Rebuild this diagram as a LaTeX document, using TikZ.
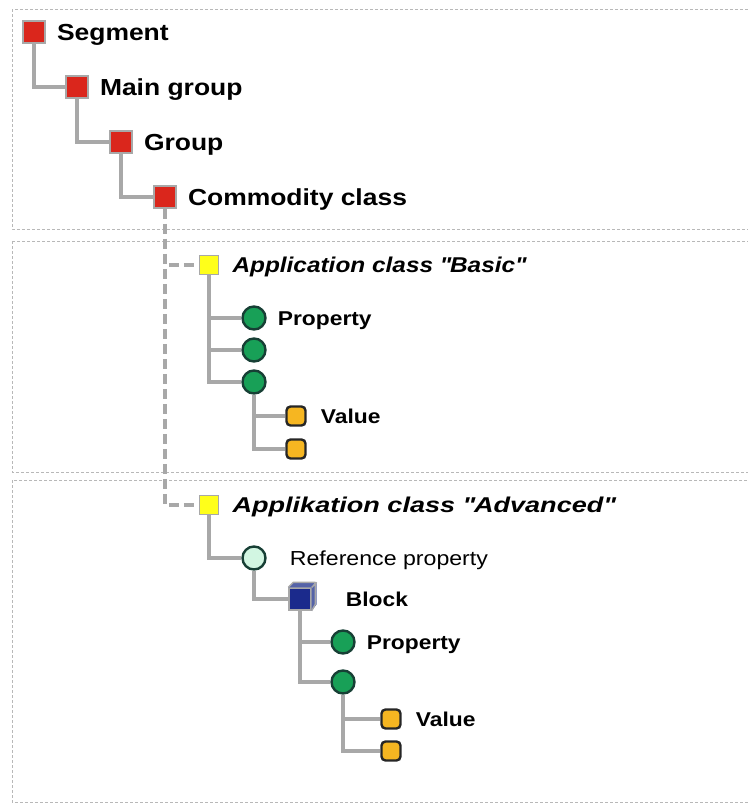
\documentclass[tikz,border=0pt]{standalone}
\usepackage{fontspec}
\usepackage{graphicx}
\setmainfont[FakeStretch=1.14]{Liberation Sans}
\usetikzlibrary{positioning}

\definecolor{linegray}{HTML}{A8A8A8}
\definecolor{panelgray}{HTML}{B8B8B8}
\definecolor{lvlred}{HTML}{DA261C}
\definecolor{clsyellow}{HTML}{FFFF1A}
\definecolor{propgreen}{HTML}{18A057}
\definecolor{propedge}{HTML}{173F35}
\definecolor{valorange}{HTML}{F6B621}
\definecolor{refmint}{HTML}{D2F6E2}
\definecolor{blocknavy}{HTML}{1B2A8C}
\definecolor{blockside}{HTML}{5563A8}

\tikzset{
  panel/.style={draw=panelgray, line width=0.9pt, dash pattern=on 3pt off 2pt},
  conn/.style={draw=linegray, line width=3.6pt},
  dashconn/.style={conn, dash pattern=on 10pt off 5pt},
  lvlbox/.style={rectangle, fill=lvlred, draw=linegray, line width=1.6pt, minimum size=22pt, inner sep=0pt},
  clsbox/.style={rectangle, fill=clsyellow, draw=linegray, line width=1.6pt, minimum size=19pt, inner sep=0pt},
  propdot/.style={circle, fill=propgreen, draw=propedge, line width=2.4pt, minimum size=23pt, inner sep=0pt},
  refdot/.style={circle, fill=refmint, draw=propedge, line width=2.4pt, minimum size=23pt, inner sep=0pt},
  valbox/.style={rectangle, rounded corners=4pt, fill=valorange, draw=black!85, line width=2.4pt, minimum size=19pt, inner sep=0pt},
  blockbox/.style={rectangle, fill=blocknavy, draw=linegray, line width=1.4pt, minimum size=22pt, inner sep=0pt},
  biglbl/.style={inner sep=0pt, text height=16.6pt, text depth=0pt, font=\fontsize{23.2}{28}\selectfont\bfseries},
  clslbl/.style={inner sep=0pt, text height=15.3pt, text depth=0pt, font=\fontsize{21.4}{26}\selectfont\bfseries\itshape},
  smllbl/.style={inner sep=0pt, text height=14.3pt, text depth=0pt, font=\fontsize{20}{24}\selectfont\bfseries},
  reflbl/.style={inner sep=0pt, text height=14.5pt, text depth=0pt, font=\fontsize{20.3}{24}\selectfont},
}

\begin{document}
\begin{tikzpicture}[x=1pt,y=-1pt]
  \useasboundingbox (0,0) rectangle (748,807);
  \clip (0,0) rectangle (748,807);

  % dashed panels
  \draw[panel] (12,9) rectangle (770,229);
  \draw[panel] (12,241) rectangle (770,472);
  \draw[panel] (12,480) rectangle (770,802);

  % classification levels
  \node[lvlbox] (seg) at (34,32) {};
  \node[lvlbox] (maingrp) at (77,87) {};
  \node[lvlbox] (grp) at (121,142) {};
  \node[lvlbox] (comm) at (165,197) {};
  \node[biglbl, right=11pt of seg] (segtxt) {Segment};
  \node[biglbl, right=11pt of maingrp] (maingrptxt) {Main group};
  \node[biglbl, right=11pt of grp] (grptxt) {Group};
  \node[biglbl, right=11pt of comm] (commtxt) {Commodity class};

  \draw[conn] (seg.south) |- (maingrp.west);
  \draw[conn] (maingrp.south) |- (grp.west);
  \draw[conn] (grp.south) |- (comm.west);

  % application classes
  \node[clsbox] (basic) at (209,265) {};
  \node[clsbox] (adv) at (209,505) {};
  \node[clslbl, right=13pt of basic] (basictxt) {Application class \textquotedbl Basic\textquotedbl};
  \node[clslbl, right=13pt of adv] (advtxt)
    {\scalebox{1.11}[1]{Applikation class \textquotedbl Advanced\textquotedbl}};

  \draw[dashconn] (comm.south) |- (basic.west);
  \draw[dashconn] (comm.south) |- (adv.west);

  % basic: properties and values
  \node[propdot] (bprop1) at (254,318) {};
  \node[propdot] (bprop2) at (254,350) {};
  \node[propdot] (bprop3) at (254,382) {};
  \node[smllbl, right=11pt of bprop1] (bproptxt) {Property};
  \node[valbox] (bval1) at (296,416) {};
  \node[valbox] (bval2) at (296,449) {};
  \node[smllbl, right=14pt of bval1] (bvaltxt) {Value};

  \draw[conn] (basic.south) |- (bprop1.west);
  \draw[conn] (basic.south) |- (bprop2.west);
  \draw[conn] (basic.south) |- (bprop3.west);
  \draw[conn] (bprop3.south) |- (bval1.west);
  \draw[conn] (bprop3.south) |- (bval2.west);

  % advanced: reference property with block
  \node[refdot] (ref) at (254,558) {};
  \node[reflbl, right=23pt of ref] (reftxt) {Reference property};
  \node[blockbox] (block) at (300,599) {};
  \fill[blockside] (block.north west) -- ++(5,-5) -- ++(22,0) -- (block.north east) -- cycle;
  \fill[blockside] (block.north east) -- ++(5,-5) -- ++(0,22) -- (block.south east) -- cycle;
  \draw[linegray, line width=1.4pt, line join=round]
    (block.north west) -- ++(5,-5) -- ++(22,0) -- ++(0,22) -- (block.south east)
    (block.north east) -- ++(5,-5);
  \node[smllbl, right=34pt of block] (blocktxt) {Block};

  \node[propdot] (aprop1) at (343,642) {};
  \node[propdot] (aprop2) at (343,682) {};
  \node[smllbl, right=11pt of aprop1] (aproptxt) {Property};
  \node[valbox] (aval1) at (391,719) {};
  \node[valbox] (aval2) at (391,751) {};
  \node[smllbl, right=14pt of aval1] (avaltxt) {Value};

  \draw[conn] (adv.south) |- (ref.west);
  \draw[conn] (ref.south) |- (block.west);
  \draw[conn] (block.south) |- (aprop1.west);
  \draw[conn] (block.south) |- (aprop2.west);
  \draw[conn] (aprop2.south) |- (aval1.west);
  \draw[conn] (aprop2.south) |- (aval2.west);
\end{tikzpicture}
\end{document}
